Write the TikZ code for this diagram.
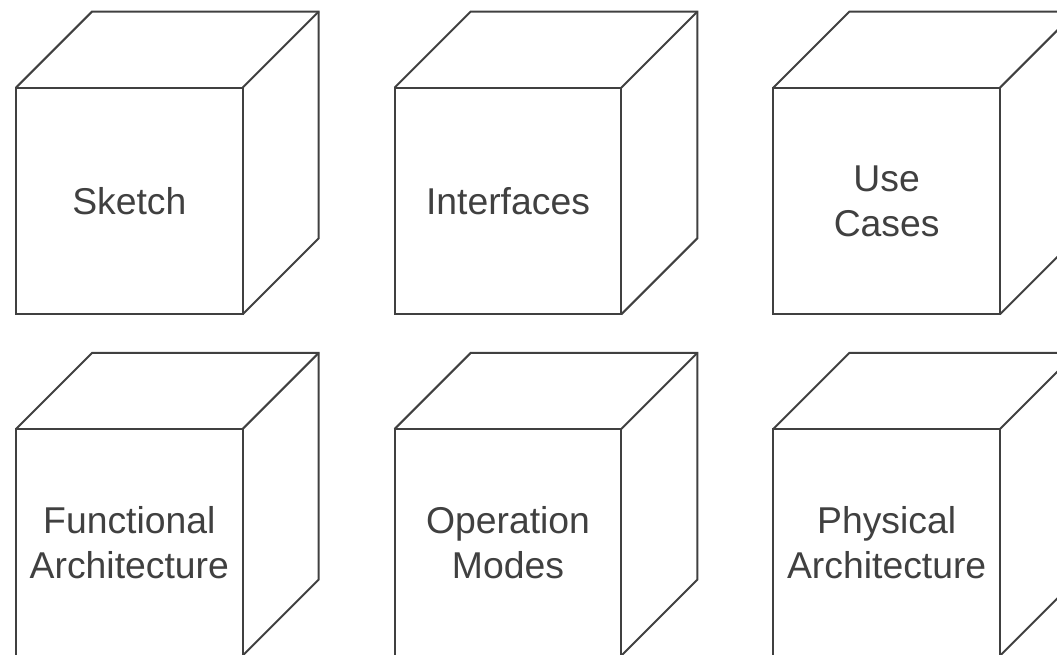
\documentclass[tikz,border=0pt]{standalone}
\usepackage{fontspec}
\setmainfont{Liberation Sans}
\usetikzlibrary{positioning}
\definecolor{ink}{HTML}{404040}
\tikzset{
  face/.style={draw=ink, line width=1.5pt, text=ink, align=center,
    minimum width=170pt, minimum height=170pt, inner sep=0pt, outer sep=0pt,
    font=\fontsize{28}{33.75}\selectfont},
  edge/.style={draw=ink, line width=1.5pt, line join=miter}
}
\begin{document}
\begin{tikzpicture}
\clip (0pt,0pt) rectangle (792.75pt,491.25pt);

\node[face] (sketch) at (97pt,340.5pt) {Sketch};
\node[face, right=114pt of sketch] (interfaces) {Interfaces};
\node[face, right=114pt of interfaces] (usecases) {Use\\Cases};
\node[face, below=86pt of sketch] (functional) {Functional\\Architecture};
\node[face, right=114pt of functional] (modes) {Operation\\Modes};
\node[face, right=114pt of modes] (physical) {Physical\\Architecture};

% top and side faces behind each box
\foreach \n in {sketch,interfaces,usecases,functional,modes,physical} {
  \draw[edge] (\n.north west) -- ++(57pt,57pt)
    -| ([shift={(57pt,57pt)}]\n.south east) -- (\n.south east);
  \draw[edge] (\n.north east) -- ++(57pt,57pt);
}
\end{tikzpicture}
\end{document}
